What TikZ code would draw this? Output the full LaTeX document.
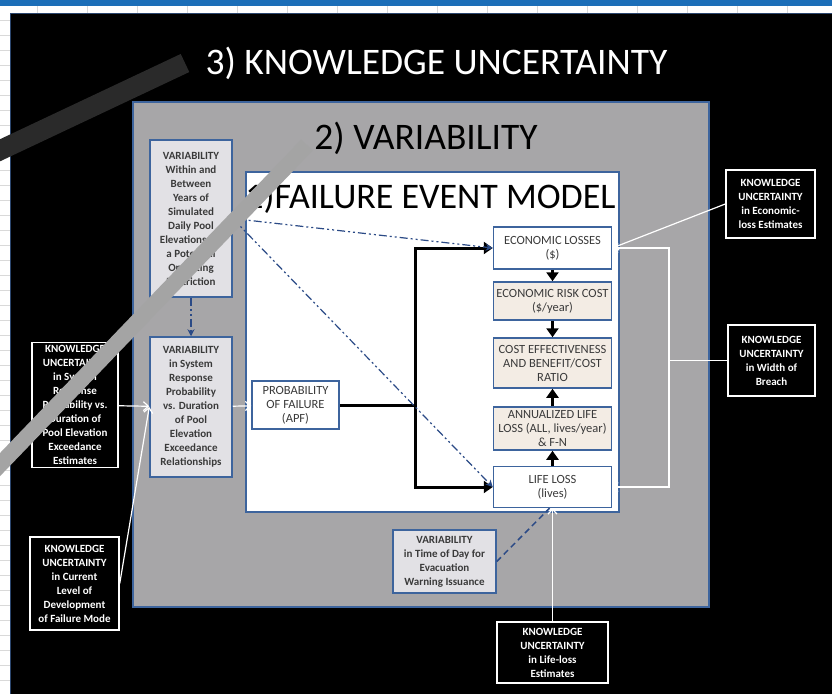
\documentclass[tikz,border=0pt]{standalone}
\usepackage{fontspec}
\setmainfont{Carlito}
\usepackage{tikz}
\usetikzlibrary{positioning,arrows.meta}
\definecolor{sheetblue}{HTML}{1C6EB8}
\definecolor{gridgray}{HTML}{D9D9D9}
\definecolor{framegray}{HTML}{A7A6A8}
\definecolor{boxblue}{HTML}{3D649D}
\definecolor{varfill}{HTML}{E2E1E5}
\definecolor{riskfill}{HTML}{F3ECE4}
\definecolor{linkblue}{HTML}{2B4A86}
\definecolor{txtgray}{HTML}{3A3A3A}
\definecolor{darkbar}{HTML}{2A2A2A}
\definecolor{lightbar}{HTML}{A4A4A4}

\begin{document}
\begin{tikzpicture}[x=1pt,y=-1pt,node distance=50pt,on grid,
  kubox/.style={draw=white,line width=1.5pt,fill=black,text=white,align=center,inner sep=1pt,
    font=\bfseries\fontsize{11}{14}\selectfont},
  varbox/.style={draw=boxblue,line width=1.5pt,fill=varfill,text=txtgray,align=center,inner sep=1pt,
    font=\bfseries\fontsize{11}{14}\selectfont},
  evbox/.style={draw=boxblue,line width=1.5pt,fill=white,text=txtgray,align=center,inner sep=1pt,
    minimum width=118pt,font=\fontsize{12.5}{14}\selectfont},
  riskbox/.style={evbox,fill=riskfill},
  heading/.style={inner sep=0pt,font=\fontsize{37.5}{40}\selectfont},
  kulink/.style={white,line width=1.2pt,-{Straight Barb[length=5pt,width=9pt]}},
  flow/.style={black,line width=3pt,-{Triangle[length=9pt,width=12pt]}},
  varlink/.style={linkblue,line width=1.2pt,dash pattern=on 8pt off 3pt on 2pt off 3pt on 2pt off 3pt,
    -{Stealth[length=7pt,width=7pt]}}]
  \useasboundingbox (0,0) rectangle (832,693);
  \clip (0,0) rectangle (832,693);
  \fill[white] (0,0) rectangle (832,693);
  \foreach \x in {37,87,...,837} \draw[gridgray] (\x,6) -- (\x,13);
  \foreach \y in {20,35,...,693} \draw[gridgray] (0,\y) -- (10,\y);
  \fill[sheetblue] (0,0) rectangle (832,6);
  \draw[boxblue!70!black,fill=black] (10,13) rectangle (840,700);
  \draw[boxblue,line width=1.5pt,fill=framegray] (133,102) rectangle (709,607);
  \draw[boxblue,line width=1.5pt,fill=white] (246,172) rectangle (619,512);

  \node[heading,text=white] (kutitle) at (436.5,63) {3) KNOWLEDGE UNCERTAINTY};
  \node[heading] (vartitle) at (426,138) {2) VARIABILITY};
  \node[heading,font=\fontsize{36}{40}\selectfont] (femtitle) at (430.5,198) {1)FAILURE EVENT MODEL};

  \node[varbox,minimum width=82pt,minimum height=157pt] (varpool) at (191,218.5)
    {VARIABILITY\\Within and\\Between\\Years of\\Simulated\\Daily Pool\\Elevations for\\a Potential\\Operating\\Restriction};
  \node[varbox,minimum width=82pt,minimum height=140pt] (varresp) at (191,407)
    {VARIABILITY\\in System\\Response\\Probability\\vs. Duration\\of Pool\\Elevation\\Exceedance\\Relationships};
  \node[kubox,minimum width=86pt,minimum height=125pt] (kuresp) at (75,405)
    {KNOWLEDGE\\UNCERTAINTY\\in System\\Response\\Probability vs.\\Duration of\\Pool Elevation\\Exceedance\\Estimates};
  \node[kubox,minimum width=89pt,minimum height=93pt] (kumode) at (74.5,583.5)
    {KNOWLEDGE\\UNCERTAINTY\\in Current\\Level of\\Development\\of Failure Mode};
  \node[evbox,minimum width=87pt,minimum height=48pt] (pof) at (295.5,405) {PROBABILITY\\OF FAILURE\\(APF)};

  \node[evbox,minimum height=42pt] (econ) at (552.5,248) {ECONOMIC LOSSES\\(\$)};
  \node[riskbox,minimum height=38pt] (erc) [below=53pt of econ] {ECONOMIC RISK COST\\(\$/year)};
  \node[riskbox,minimum height=50pt] (cbr) [below=62pt of erc] {COST EFFECTIVENESS\\AND BENEFIT/COST\\RATIO};
  \node[riskbox,minimum height=43pt] (all) [below=65.5pt of cbr] {ANNUALIZED LIFE\\LOSS  (ALL, lives/year)\\\& F-N};
  \node[evbox,minimum height=41pt] (life) [below=58.5pt of all] {LIFE LOSS\\(lives)};

  \node[varbox,minimum width=103pt,minimum height=63pt] (vartime) at (444.5,561.5)
    {VARIABILITY\\in Time of Day for\\Evacuation\\Warning Issuance};
  \node[kubox,minimum width=111pt,minimum height=61pt] (kulife) at (552.5,652.5)
    {KNOWLEDGE\\UNCERTAINTY\\in Life-loss\\Estimates};
  \node[kubox,minimum width=89pt,minimum height=68pt] (kuecon) at (770.5,204)
    {KNOWLEDGE\\UNCERTAINTY\\in  Economic-\\loss Estimates};
  \node[kubox,minimum width=87pt,minimum height=71pt] (kubreach) at (771.5,360.5)
    {KNOWLEDGE\\UNCERTAINTY\\in Width of\\Breach};

  \coordinate (split) at (415,405);
  \coordinate (breachbus) at (669,360.5);

  \draw[black,line width=3pt] (pof) -- (split);
  \draw[flow] (split) |- (econ);
  \draw[flow] (split) |- (life);
  \path[flow]
    (econ) edge (erc)
    (erc) edge (cbr)
    (all) edge (cbr)
    (life) edge (all);

  \path[kulink]
    (kuresp) edge (varresp)
    (kumode.east) edge (varresp.west)
    (varresp) edge (pof)
    (kuecon.west) edge (econ.east)
    (kulife) edge (life);
  \draw[white,line width=1.2pt] (kubreach) -- (breachbus);
  \draw[kulink] (breachbus) |- (econ);
  \draw[kulink] (breachbus) |- (life);

  \path[varlink]
    (varpool.east) edge (econ.west)
    (varpool.east) edge (life.west)
    (varpool) edge (varresp);
  \draw[linkblue,line width=1.5pt,dash pattern=on 6pt off 4pt] (vartime.east) -- ([xshift=-3pt]life.south);

  \draw[darkbar,line width=20pt] (185,63) -- (-10,155);
  \draw[lightbar,line width=16pt] (307,145) -- (-10,475);
\end{tikzpicture}
\end{document}
